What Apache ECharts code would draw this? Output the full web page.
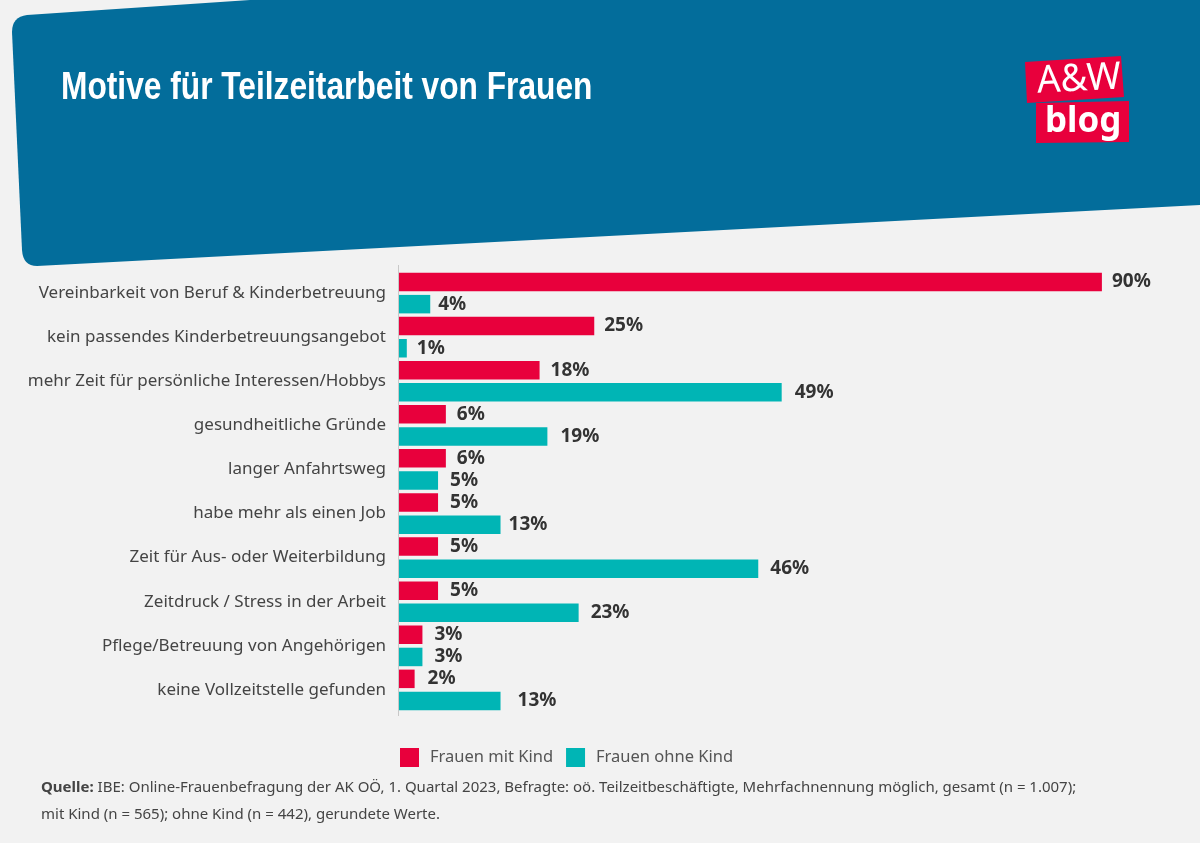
<!DOCTYPE html>
<html lang="de">
<head>
<meta charset="UTF-8">
<title>Motive für Teilzeitarbeit von Frauen</title>
<script src="https://cdn.jsdelivr.net/npm/echarts@6/dist/echarts.min.js"></script>
<style>
html,body{margin:0;padding:0;background:#f2f2f2}
#chart{width:1200px;height:843px}
</style>
</head>
<body>
<div id="chart"></div>
<script>
var categories = [
    'Vereinbarkeit von Beruf & Kinderbetreuung',
    'kein passendes Kinderbetreuungsangebot',
    'mehr Zeit für persönliche Interessen/Hobbys',
    'gesundheitliche Gründe',
    'langer Anfahrtsweg',
    'habe mehr als einen Job',
    'Zeit für Aus- oder Weiterbildung',
    'Zeitdruck / Stress in der Arbeit',
    'Pflege/Betreuung von Angehörigen',
    'keine Vollzeitstelle gefunden'
];
var mitKind = [90, 25, 18, 6, 6, 5, 5, 5, 3, 2];
var ohneKind = [4, 1, 49, 19, 5, 13, 46, 23, 3, 13];
// label gap differs per bar in the original
var mitKindGap = [10, 10, 11, 11, 11, 12, 12, 12, 12, 13];
var ohneKindGap = [8, 10, 13, 13, 12, 8, 12, 12, 12, 17];

var RED = '#e8003c', TEAL = '#00b5b5', BLUE = '#036d9b';
var BODY = '"Noto Sans", sans-serif';

// blue header with rounded corners
echarts.graphic.registerShape('headerShape', echarts.graphic.extendShape({
    shape: {},
    buildPath: function (ctx) {
        ctx.moveTo(250, 0);
        ctx.lineTo(1200, 0);
        ctx.lineTo(1200, 205);
        ctx.lineTo(37, 266);
        ctx.quadraticCurveTo(23, 266, 22, 250);
        ctx.lineTo(12, 32);
        ctx.quadraticCurveTo(12, 17, 27, 15);
        ctx.closePath();
    }
}));

function bars(values, gaps) {
    return values.map(function (v, i) {
        return { value: v, label: { distance: gaps[i] } };
    });
}
function barSeries(name, color, values, gaps) {
    return {
        name: name,
        type: 'bar',
        barWidth: 18.5,
        barGap: '20%',
        itemStyle: { color: color },
        label: {
            show: true,
            position: 'right',
            formatter: '{c}%',
            fontFamily: BODY,
            fontWeight: 'bold',
            fontSize: 19,
            color: '#333',
            padding: [2, 0, 0, 0]
        },
        data: bars(values, gaps)
    };
}

var chart = echarts.init(document.getElementById('chart'));
chart.setOption({
    backgroundColor: '#f2f2f2',
    animation: false,
    legend: {
        left: 395,
        top: 743,
        icon: 'rect',
        itemWidth: 19,
        itemHeight: 19,
        itemGap: 13,
        selectedMode: false,
        textStyle: { fontFamily: BODY, fontSize: 16.5, color: '#555', padding: [0, 0, 0, 6] },
        data: ['Frauen mit Kind', 'Frauen ohne Kind']
    },
    grid: { left: 399, top: 271, width: 781, height: 441 },
    xAxis: { type: 'value', min: 0, max: 100, show: false },
    yAxis: {
        type: 'category',
        inverse: true,
        data: categories,
        axisLine: { show: false },
        axisTick: { show: false },
        axisLabel: { fontFamily: BODY, fontSize: 17, color: '#444', margin: 13, padding: [4, 0, 0, 0] }
    },
    series: [
        barSeries('Frauen mit Kind', RED, mitKind, mitKindGap),
        barSeries('Frauen ohne Kind', TEAL, ohneKind, ohneKindGap)
    ],
    graphic: [
        { type: 'headerShape', z: -1, style: { fill: BLUE } },
        { type: 'text', x: 61, y: 69, scaleX: 0.813, style: { text: 'Motive für Teilzeitarbeit von Frauen', font: 'bold 39px "Liberation Sans", sans-serif', fill: '#fff' } },
        // axis line runs a little past the bars
        { type: 'line', shape: { x1: 398.5, y1: 265, x2: 398.5, y2: 716 }, style: { stroke: '#c8c8c8', lineWidth: 1 } },
        // logo
        { type: 'polygon', shape: { points: [[1025, 62], [1121, 56], [1124, 97], [1027, 103]] }, style: { fill: RED } },
        { type: 'polygon', shape: { points: [[1036, 103], [1129, 101], [1129, 142], [1036, 143]] }, style: { fill: RED } },
        { type: 'text', x: 1036, y: 63, scaleX: 0.97, rotation: 0.05, style: { text: 'A&W', font: '38px "Noto Sans", sans-serif', fill: '#fff' } },
        { type: 'text', x: 1045, y: 104, scaleX: 0.97, style: { text: 'blog', font: 'bold 36px "Noto Sans", sans-serif', fill: '#fff' } },
        // source note
        { type: 'text', x: 41, y: 780, style: {
            text: '{b|Quelle:} IBE: Online-Frauenbefragung der AK OÖ, 1. Quartal 2023, Befragte: oö. Teilzeitbeschäftigte, Mehrfachnennung möglich, gesamt (n = 1.007);',
            font: '15px "Noto Sans", sans-serif', fill: '#444',
            rich: { b: { font: 'bold 15px "Noto Sans", sans-serif', fill: '#444' } }
        } },
        { type: 'text', x: 41, y: 807, style: {
            text: 'mit Kind (n = 565); ohne Kind (n = 442), gerundete Werte.',
            font: '15px "Noto Sans", sans-serif', fill: '#444'
        } }
    ]
});
</script>
</body>
</html>
